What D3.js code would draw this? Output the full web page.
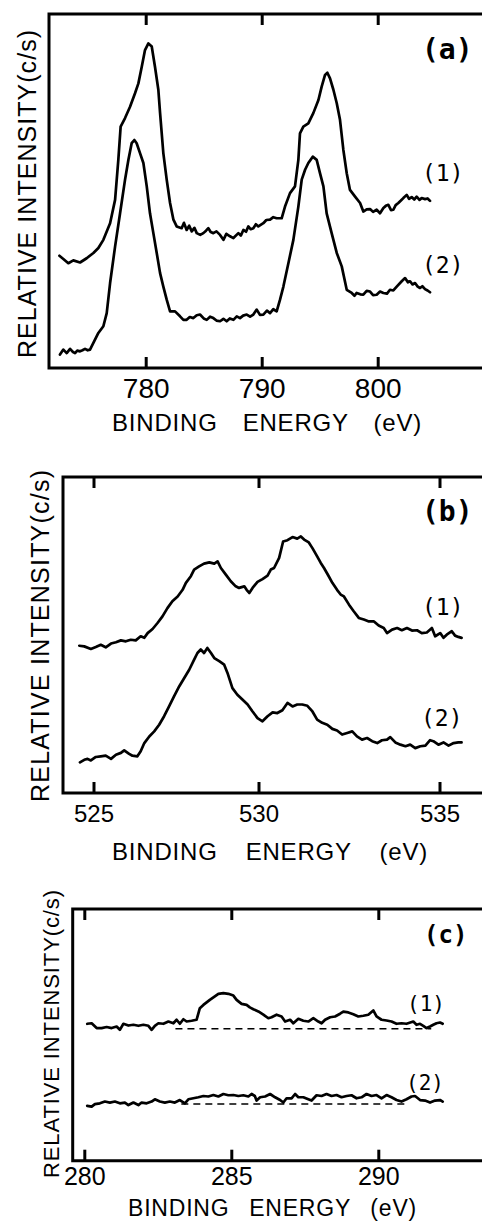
<!DOCTYPE html>
<html>
<head>
<meta charset="utf-8">
<script src="https://cdn.jsdelivr.net/npm/d3@7"></script>
<style>
  html, body { margin: 0; padding: 0; background: #fff; }
  svg { display: block; }
  .frame, .tick line { stroke: #000; stroke-width: 3; }
  .spec { fill: none; stroke: #000; stroke-width: 2.7; stroke-linejoin: round; stroke-linecap: round; }
  .base { fill: none; stroke: #000; stroke-width: 1.4; stroke-dasharray: 7,5; }
  .lab { font-family: "Liberation Sans", Arial, sans-serif; fill: #000; }
  .tag { font-family: "DejaVu Sans Mono", monospace; fill: #000; }
</style>
</head>
<body>
<svg width="482" height="1222"></svg>
<script>
var svg = d3.select("svg"),
    width = +svg.attr("width"),
    height = +svg.attr("height");

// ---- data: binding energy (eV), relative intensity (arb. 0-100 of frame) ----
var cuTicks = [780, 790, 800];
var cu1 = [[772.56,31.7],[772.9,30.8],[773.33,29.6],[773.76,30.4],[774.34,29.8],[774.91,31.0],[775.49,32.5],[775.92,33.9],[776.35,36.2],[776.93,40.9],[777.36,47.5],[777.64,58.8],[777.84,68.2],[778.22,70.6],[778.65,73.8],[779.08,77.6],[779.37,80.4],[779.66,85.1],[779.94,89.8],[780.23,91.7],[780.52,90.8],[780.8,85.1],[781.09,78.6],[781.24,72.0],[781.52,60.7],[781.81,53.2],[782.1,46.6],[782.39,41.9],[782.67,40.0],[783.1,39.5],[783.3,41.0],[783.53,39.0],[783.75,40.2],[783.97,38.6],[784.2,39.6],[784.4,38.1],[784.7,37.6],[784.97,38.1],[785.2,38.8],[785.4,39.5],[785.6,38.4],[785.83,38.1],[786.1,38.6],[786.41,37.6],[786.7,36.2],[786.95,37.9],[787.27,37.2],[787.56,36.7],[787.99,38.1],[788.2,37.4],[788.42,39.0],[788.65,38.5],[788.85,40.0],[789.05,39.2],[789.28,39.5],[789.5,40.6],[789.71,40.0],[790.14,40.9],[790.4,41.8],[790.72,41.9],[791.0,42.6],[791.29,42.3],[791.72,42.3],[792.01,45.6],[792.44,49.4],[792.87,51.3],[793.16,58.8],[793.3,66.3],[793.59,68.2],[794.02,69.1],[794.45,72.0],[794.89,75.7],[795.17,79.5],[795.46,82.8],[795.66,83.4],[795.89,81.8],[796.18,78.6],[796.47,74.8],[796.75,70.1],[797.04,61.6],[797.33,55.0],[797.61,50.3],[798.05,48.4],[798.48,46.6],[798.76,44.2],[799.05,44.8],[799.34,44.9],[799.6,44.1],[799.91,44.7],[800.2,43.7],[800.49,45.2],[800.7,45.8],[800.92,46.1],[801.15,44.6],[801.35,44.7],[801.55,46.0],[801.78,46.6],[802.0,47.3],[802.21,48.0],[802.5,48.9],[802.7,47.8],[802.93,48.3],[803.15,47.6],[803.36,48.4],[803.6,47.5],[803.79,48.0],[804.08,47.7],[804.3,47.9],[804.51,47.2]];
var cu2 = [[772.61,3.8],[772.9,5.2],[773.19,4.2],[773.48,5.4],[773.7,4.6],[773.91,4.2],[774.1,4.9],[774.34,4.7],[774.55,5.0],[774.77,5.4],[775.0,5.0],[775.2,5.2],[775.49,7.1],[775.92,9.9],[776.35,11.8],[776.64,15.5],[776.93,24.0],[777.36,34.3],[777.79,43.7],[778.22,53.2],[778.51,58.8],[778.79,63.5],[779.02,64.4],[779.22,63.5],[779.51,60.7],[779.8,57.9],[780.09,51.3],[780.37,43.7],[780.66,38.1],[780.95,32.5],[781.24,26.8],[781.52,23.0],[781.81,19.3],[782.1,16.0],[782.53,16.0],[782.96,14.6],[783.25,13.6],[783.53,13.6],[783.8,14.4],[784.11,14.1],[784.4,14.9],[784.68,15.1],[785.0,14.0],[785.26,13.6],[785.55,14.5],[785.83,14.1],[786.1,13.4],[786.41,13.2],[786.7,13.9],[786.98,13.2],[787.25,14.0],[787.56,13.6],[787.85,14.6],[788.13,14.1],[788.4,14.8],[788.71,15.1],[789.0,14.5],[789.28,15.1],[789.57,16.5],[789.85,15.0],[790.14,15.1],[790.45,16.2],[790.72,15.5],[791.0,16.6],[791.29,16.0],[791.58,19.3],[791.87,23.0],[792.3,29.6],[792.73,36.2],[793.16,45.6],[793.45,53.2],[793.74,56.0],[794.02,57.9],[794.4,59.7],[794.74,58.8],[795.03,55.0],[795.32,51.3],[795.6,43.7],[796.03,38.1],[796.47,32.5],[796.9,28.7],[797.33,22.1],[797.76,21.2],[798.0,20.4],[798.19,21.2],[798.5,20.8],[798.76,20.7],[799.05,21.8],[799.34,21.6],[799.6,20.6],[799.91,20.7],[800.2,21.6],[800.49,21.2],[800.8,21.0],[801.06,22.1],[801.35,21.9],[801.64,23.0],[802.07,24.5],[802.36,25.4],[802.6,24.2],[802.79,24.5],[803.0,23.6],[803.22,24.0],[803.45,23.0],[803.65,22.6],[803.85,23.1],[804.08,22.3],[804.3,21.9],[804.51,21.4]];

var oTicks = [525, 530, 535];
var o1 = [[524.57,46.6],[524.72,46.4],[524.92,45.6],[525.07,46.2],[525.22,46.9],[525.37,46.1],[525.53,47.3],[525.68,47.7],[525.83,48.3],[525.98,48.0],[526.13,48.5],[526.28,48.3],[526.43,49.6],[526.54,49.1],[526.64,50.6],[526.79,51.9],[526.94,53.8],[527.09,55.9],[527.24,58.5],[527.39,60.7],[527.55,62.2],[527.7,64.3],[527.8,66.5],[527.95,68.6],[528.05,70.7],[528.2,71.7],[528.35,72.6],[528.51,73.0],[528.66,72.6],[528.76,73.3],[528.86,71.2],[529.01,69.1],[529.16,67.0],[529.31,65.4],[529.41,64.9],[529.57,65.4],[529.64,64.3],[529.72,63.3],[529.82,64.9],[529.97,66.8],[530.11,67.7],[530.25,68.8],[530.34,70.7],[530.43,71.2],[530.57,74.4],[530.68,79.6],[530.8,80.0],[530.94,81.0],[531.07,80.5],[531.17,81.2],[531.26,80.2],[531.39,79.3],[531.49,77.5],[531.62,74.9],[531.72,72.8],[531.81,71.2],[531.94,68.6],[532.04,66.5],[532.17,64.3],[532.27,62.8],[532.36,62.2],[532.5,59.6],[532.63,57.5],[532.77,55.4],[532.91,54.9],[533.05,54.3],[533.19,54.3],[533.32,53.0],[533.46,52.2],[533.55,50.6],[533.69,51.7],[533.83,52.2],[533.96,51.5],[534.1,52.2],[534.24,51.4],[534.38,51.5],[534.51,50.6],[534.65,50.8],[534.79,52.2],[534.88,49.6],[535.02,50.6],[535.11,49.1],[535.2,50.1],[535.34,51.2],[535.43,49.8],[535.52,49.4],[535.61,49.1]];
var o2 = [[524.59,9.7],[524.72,10.5],[524.82,10.8],[524.92,10.3],[525.07,11.4],[525.22,11.6],[525.37,11.8],[525.53,10.8],[525.68,12.1],[525.83,12.7],[525.93,13.5],[526.08,12.4],[526.18,11.8],[526.33,11.6],[526.43,13.2],[526.54,15.8],[526.69,17.9],[526.84,19.5],[526.99,21.6],[527.14,24.3],[527.29,27.4],[527.44,30.6],[527.6,33.8],[527.75,36.4],[527.9,39.0],[528.05,42.2],[528.15,44.3],[528.25,45.4],[528.35,44.3],[528.45,45.9],[528.56,44.3],[528.66,42.7],[528.81,41.7],[528.96,40.6],[529.06,38.0],[529.21,33.2],[529.36,31.1],[529.52,29.5],[529.67,28.0],[529.82,25.8],[529.97,23.7],[530.11,22.7],[530.25,24.3],[530.39,25.5],[530.52,25.3],[530.66,26.2],[530.8,28.5],[530.94,27.4],[531.07,28.0],[531.21,28.0],[531.35,27.6],[531.49,25.8],[531.62,23.2],[531.76,22.2],[531.9,21.6],[532.04,20.3],[532.17,19.8],[532.31,18.5],[532.45,19.0],[532.59,19.5],[532.72,17.9],[532.86,16.9],[533.0,17.4],[533.14,16.4],[533.28,15.8],[533.41,16.7],[533.55,16.9],[533.64,17.7],[533.78,16.0],[533.92,15.3],[534.06,14.8],[534.19,15.3],[534.33,14.2],[534.47,14.8],[534.61,15.0],[534.74,16.7],[534.83,16.4],[534.97,15.3],[535.11,16.0],[535.25,15.0],[535.39,15.8],[535.52,16.0],[535.61,16.0]];

var cTicks = [280, 285, 290];
var c1 = [[280.1,54.4],[280.25,54.6],[280.42,52.7],[280.59,52.7],[280.76,53.1],[280.93,52.7],[281.1,53.3],[281.21,52.0],[281.33,54.4],[281.5,53.7],[281.67,54.0],[281.84,53.6],[282.01,54.0],[282.18,53.6],[282.29,52.0],[282.4,53.6],[282.52,54.6],[282.69,54.4],[282.86,55.3],[283.03,54.6],[283.14,56.0],[283.25,54.4],[283.37,56.2],[283.48,55.3],[283.65,55.6],[283.82,56.0],[283.93,60.6],[284.05,61.9],[284.16,62.9],[284.27,63.9],[284.44,65.3],[284.56,66.3],[284.73,66.6],[284.9,66.3],[285.07,65.6],[285.18,63.9],[285.35,62.3],[285.52,61.9],[285.63,60.9],[285.75,60.2],[285.92,59.3],[286.09,58.0],[286.26,56.6],[286.37,57.0],[286.54,58.0],[286.71,57.3],[286.83,55.3],[287.0,56.0],[287.11,54.6],[287.28,56.4],[287.45,55.6],[287.62,55.3],[287.79,56.6],[287.96,55.3],[288.07,54.6],[288.19,56.0],[288.36,57.0],[288.53,57.3],[288.7,58.4],[288.81,59.2],[288.98,58.9],[289.15,58.2],[289.32,57.3],[289.49,57.6],[289.66,58.0],[289.83,59.7],[289.94,57.3],[290.11,56.0],[290.28,55.7],[290.45,55.3],[290.62,54.4],[290.79,54.6],[290.96,54.4],[291.19,55.3],[291.3,54.0],[291.42,54.4],[291.53,53.6],[291.64,52.7],[291.76,53.3],[291.87,54.0],[291.98,54.6],[292.1,54.9],[292.19,54.4]];
var c2 = [[280.1,21.8],[280.25,21.5],[280.36,22.5],[280.53,22.8],[280.7,23.5],[280.87,23.1],[281.04,23.5],[281.21,22.8],[281.38,23.1],[281.5,22.1],[281.67,23.1],[281.84,22.1],[281.95,23.1],[282.12,22.8],[282.29,23.5],[282.4,24.4],[282.57,23.5],[282.74,23.1],[282.91,23.5],[283.08,23.1],[283.25,24.1],[283.42,22.8],[283.54,24.4],[283.71,24.8],[283.88,25.2],[284.05,25.7],[284.22,25.5],[284.39,26.1],[284.56,25.5],[284.73,26.5],[284.9,26.0],[285.07,26.1],[285.24,25.7],[285.41,26.0],[285.58,25.5],[285.69,26.5],[285.8,25.7],[285.86,23.9],[285.98,25.2],[286.15,25.5],[286.32,26.5],[286.49,25.2],[286.66,24.1],[286.77,23.1],[286.88,24.8],[287.05,24.8],[287.17,26.5],[287.28,25.2],[287.45,25.2],[287.62,24.4],[287.73,23.9],[287.9,26.0],[288.07,25.7],[288.24,26.5],[288.41,25.7],[288.58,26.1],[288.75,25.2],[288.92,25.7],[289.09,26.0],[289.26,24.8],[289.43,25.2],[289.6,26.5],[289.77,25.7],[289.94,26.1],[290.11,24.8],[290.28,26.1],[290.45,25.2],[290.62,24.1],[290.79,23.5],[290.96,24.4],[291.13,25.5],[291.25,25.7],[291.42,24.1],[291.59,23.9],[291.76,23.1],[291.93,23.9],[292.1,24.1],[292.19,23.5]];
// dashed background lines under the C 1s spectra: [start eV, end eV, level]
var cBase1 = [283.1, 291.8, 52.4];
var cBase2 = [283.3, 290.9, 22.5];

// ---- panel layout ----
var panels = [
  { tag: "(a)", ticks: cuTicks, series: [cu1, cu2], bases: [],
    x: d3.scaleLinear().domain([780, 800]).range([145.7, 377.7]),
    y: d3.scaleLinear().domain([0, 100]).range([368, 14]),
    left: 49, tickFont: 28, tickPad: 10,
    xlab: { x: 112, y: 431, len: 310, size: 24 },
    ylab: { x: 36, y: 194, len: 328, size: 25 },
    tagPos: [422, 59, 28], nums: [[422, 181], [422, 273]], numSize: 23 },
  { tag: "(b)", ticks: oTicks, series: [o1, o2], bases: [],
    x: d3.scaleLinear().domain([525, 530, 535]).range([93.5, 258.5, 439.5]),
    y: d3.scaleLinear().domain([0, 100]).range([793, 477]),
    left: 63, tickFont: 24, tickPad: 12,
    xlab: { x: 112, y: 860, len: 316, size: 24 },
    ylab: { x: 49, y: 636, len: 332, size: 25 },
    tagPos: [422, 521, 28], nums: [[422, 615], [421, 726]], numSize: 23 },
  { tag: "(c)", ticks: cTicks, series: [c1, c2], bases: [cBase1, cBase2],
    x: d3.scaleLinear().domain([280, 290]).range([84.3, 378.3]),
    y: d3.scaleLinear().domain([0, 100]).range([1160.7, 909]),
    left: 72.7, tickFont: 25, tickPad: 6.5,
    xlab: { x: 128, y: 1216, len: 289, size: 23 },
    ylab: { x: 59, y: 1034, len: 288, size: 22 },
    tagPos: [424, 943, 24], nums: [[407, 1011], [406, 1090]], numSize: 21 }
];

panels.forEach(drawPanel);

function drawPanel(p) {
  var g = svg.append("g");
  var y0 = p.y.range()[0], y1 = p.y.range()[1];
  var right = width + 10;

  // inward ticks, bottom with labels, top without
  g.append("g")
      .attr("transform", "translate(0," + y0 + ")")
      .call(d3.axisBottom(p.x).tickValues(p.ticks).tickSizeInner(-11).tickSizeOuter(0).tickPadding(p.tickPad))
      .call(function(a) {
        a.select(".domain").remove();
        a.selectAll("text")
            .attr("class", "lab")
            .attr("fill", "#000")
            .style("font-size", p.tickFont + "px")
            .style("font-family", "'Liberation Sans', Arial, sans-serif");
      });
  g.append("g")
      .attr("transform", "translate(0," + y1 + ")")
      .call(d3.axisTop(p.x).tickValues(p.ticks).tickSizeInner(-11).tickSizeOuter(0).tickFormat(""))
      .select(".domain").remove();

  // open frame (right side runs off the page)
  g.append("path")
      .attr("class", "frame")
      .attr("fill", "none")
      .attr("d", "M" + right + "," + y1 + "H" + p.left + "V" + y0 + "H" + right);

  var line = d3.line()
      .x(function(d) { return p.x(d[0]); })
      .y(function(d) { return p.y(d[1]); });

  g.selectAll(".spec")
    .data(p.series)
    .enter().append("path")
      .attr("class", "spec")
      .attr("d", line);

  g.selectAll(".base")
    .data(p.bases)
    .enter().append("line")
      .attr("class", "base")
      .attr("x1", function(d) { return p.x(d[0]); })
      .attr("x2", function(d) { return p.x(d[1]); })
      .attr("y1", function(d) { return p.y(d[2]); })
      .attr("y2", function(d) { return p.y(d[2]); });

  // x title, words spread like the original lettering
  var xt = g.append("text")
      .attr("class", "lab")
      .attr("x", p.xlab.x)
      .attr("y", p.xlab.y)
      .style("font-size", p.xlab.size + "px")
      .style("letter-spacing", "0.8px")
      .text("BINDING ENERGY (eV)");
  var nat = xt.node().getComputedTextLength();
  xt.style("word-spacing", ((p.xlab.len - nat) / 2) + "px");

  g.append("text")
      .attr("class", "lab")
      .attr("transform", "translate(" + p.ylab.x + "," + p.ylab.y + ") rotate(-90)")
      .attr("text-anchor", "middle")
      .attr("textLength", p.ylab.len)
      .attr("lengthAdjust", "spacing")
      .style("font-size", p.ylab.size + "px")
      .text("RELATIVE  INTENSITY(c/s)");

  g.append("text")
      .attr("class", "tag")
      .attr("x", p.tagPos[0])
      .attr("y", p.tagPos[1])
      .style("font-size", p.tagPos[2] + "px")
      .style("font-weight", "bold")
      .text(p.tag);

  g.selectAll(".num")
    .data(p.nums)
    .enter().append("text")
      .attr("class", "tag")
      .attr("x", function(d) { return d[0]; })
      .attr("y", function(d) { return d[1]; })
      .style("font-size", p.numSize + "px")
      .text(function(d, i) { return "(" + (i + 1) + ")"; });
}
</script>
</body>
</html>
